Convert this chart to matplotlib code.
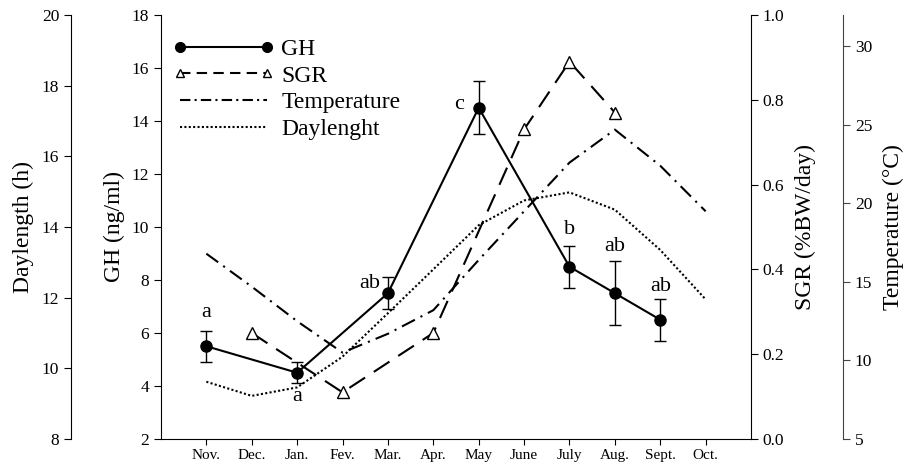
import matplotlib
matplotlib.use('Agg')
import matplotlib.pyplot as plt
import numpy as np
from matplotlib.lines import Line2D

plt.rcParams['font.family'] = ['Liberation Serif', 'DejaVu Serif']

# months on the x axis
months = ['Nov.', 'Dec.', 'Jan.', 'Fev.', 'Mar.', 'Apr.', 'May', 'June',
          'July', 'Aug.', 'Sept.', 'Oct.']

# GH (ng/ml), mean +/- error and significance letters
gh_months = ['Nov.', 'Jan.', 'Mar.', 'May', 'July', 'Aug.', 'Sept.']
gh_mean = [5.5, 4.5, 7.5, 14.5, 8.5, 7.5, 6.5]
gh_err = [0.58, 0.4, 0.6, 1.0, 0.8, 1.2, 0.8]
gh_letters = ['a', 'a', 'ab', 'c', 'b', 'ab', 'ab']

# SGR (%BW/day)
sgr_months = ['Dec.', 'Fev.', 'Apr.', 'June', 'July', 'Aug.']
sgr_values = [0.25, 0.11, 0.25, 0.73, 0.89, 0.77]

# monthly water temperature (C) and daylength (h)
temperature = [16.8, 14.7, 12.5, 10.5, 11.7, 13.2, 16.4, 19.5, 22.6, 24.7, 22.4, 19.5]
daylength = [9.62, 9.22, 9.46, 10.33, 11.56, 12.8, 14.05, 14.75, 14.98, 14.49, 13.35, 11.95]

x_all = np.arange(len(months))
x_gh = [months.index(m) for m in gh_months]
x_sgr = [months.index(m) for m in sgr_months]

fig = plt.figure(figsize=(9.13, 4.67), dpi=100)
ax = fig.add_axes([0.1763, 0.06, 0.6463, 0.9079])
ax_sgr = ax.twinx()
ax_temp = ax.twinx()
ax_day = ax.twinx()

# GH on top of the other axes
ax.set_zorder(5)
ax.patch.set_visible(False)

lw = 1.5
ax_day.plot(x_all, daylength, color='black', lw=lw, linestyle=(0, (1, 1.1)))
ax_temp.plot(x_all, temperature, color='black', lw=lw, linestyle=(0, (7, 3, 1, 3)))
ax_sgr.plot(x_sgr, sgr_values, color='black', lw=lw, linestyle=(0, (9, 5)),
            marker='^', markersize=9, markerfacecolor='white', markeredgecolor='black',
            markeredgewidth=1.0)
ax.errorbar(x_gh, gh_mean, yerr=gh_err, color='black', lw=lw, marker='o',
            markersize=8, capsize=4.5, elinewidth=1.0, capthick=1.0)

# significance letters (offsets in points)
letter_offsets = [(0, 24), (0, -17), (-13, 7), (-14, 2), (0, 27), (0, 34), (0, 24)]
for xi, yi, lab, off in zip(x_gh, gh_mean, gh_letters, letter_offsets):
    ax.annotate(lab, (xi, yi), xytext=off, textcoords='offset points',
                ha='center', va='center', fontsize=16)

# main GH axis
ax.set_xlim(-1, 12)
ax.set_ylim(2, 18)
ax.set_yticks(np.arange(2, 19, 2))
ax.set_xticks(x_all)
ax.set_xticklabels(months, fontsize=11)
ax.tick_params(axis='y', labelsize=12.5, direction='out', length=5)
ax.tick_params(axis='x', direction='out', length=4, pad=3)
ax.spines['top'].set_visible(False)
ax.spines['right'].set_visible(False)
ax.set_ylabel('GH (ng/ml)', fontsize=17)
ax.yaxis.set_label_coords(-0.061, 0.5)

# SGR axis
ax_sgr.set_ylim(0, 1.0)
ax_sgr.set_yticks(np.arange(0, 1.01, 0.2))
ax_sgr.yaxis.set_major_formatter(plt.FormatStrFormatter('%.1f'))
ax_sgr.tick_params(axis='y', labelsize=12.5, direction='out', length=5)
for s in ['top', 'left', 'bottom']:
    ax_sgr.spines[s].set_visible(False)
ax_sgr.set_ylabel('SGR (%BW/day)', fontsize=17)
ax_sgr.yaxis.set_label_coords(1.0746, 0.5)

# temperature axis
ax_temp.set_ylim(5, 32)
ax_temp.set_yticks(np.arange(5, 31, 5))
ax_temp.spines['right'].set_position(('axes', 1.156))
ax_temp.spines['right'].set_color('#444444')
ax_temp.tick_params(axis='y', labelsize=12.5, direction='out', length=5, color='#444444')
for s in ['top', 'left', 'bottom']:
    ax_temp.spines[s].set_visible(False)
ax_temp.set_ylabel('Temperature (°C)', fontsize=17)
ax_temp.yaxis.set_label_coords(1.2237, 0.5)

# daylength axis, far left
ax_day.set_ylim(8, 20)
ax_day.set_yticks(np.arange(8, 21, 2))
ax_day.yaxis.set_ticks_position('left')
ax_day.yaxis.set_label_position('left')
ax_day.spines['left'].set_position(('axes', -0.1525))
ax_day.spines['left'].set_visible(True)
for s in ['top', 'right', 'bottom']:
    ax_day.spines[s].set_visible(False)
ax_day.tick_params(axis='y', labelsize=12.5, direction='out', length=5)
ax_day.set_ylabel('Daylength (h)', fontsize=17)
ax_day.yaxis.set_label_coords(-0.215, 0.5)

handles = [
    Line2D([0], [0], color='black', lw=lw, marker='o', markersize=7, label='GH'),
    Line2D([0], [0], color='black', lw=lw, linestyle=(0, (5, 3)), marker='^', markersize=6,
           markerfacecolor='white', markeredgewidth=1.0, label='SGR'),
    Line2D([0], [0], color='black', lw=lw, linestyle=(0, (5, 2, 1, 2)), label='Temperature'),
    Line2D([0], [0], color='black', lw=lw, linestyle=(0, (1, 1.1)), label='Daylenght'),
]
ax.legend(handles=handles, loc='upper left', bbox_to_anchor=(0.02, 0.945), frameon=False,
          fontsize=17, numpoints=2, handlelength=4.3, handletextpad=0.3,
          labelspacing=0.22, borderpad=0, borderaxespad=0)

fig.savefig('out.png', dpi=100)
